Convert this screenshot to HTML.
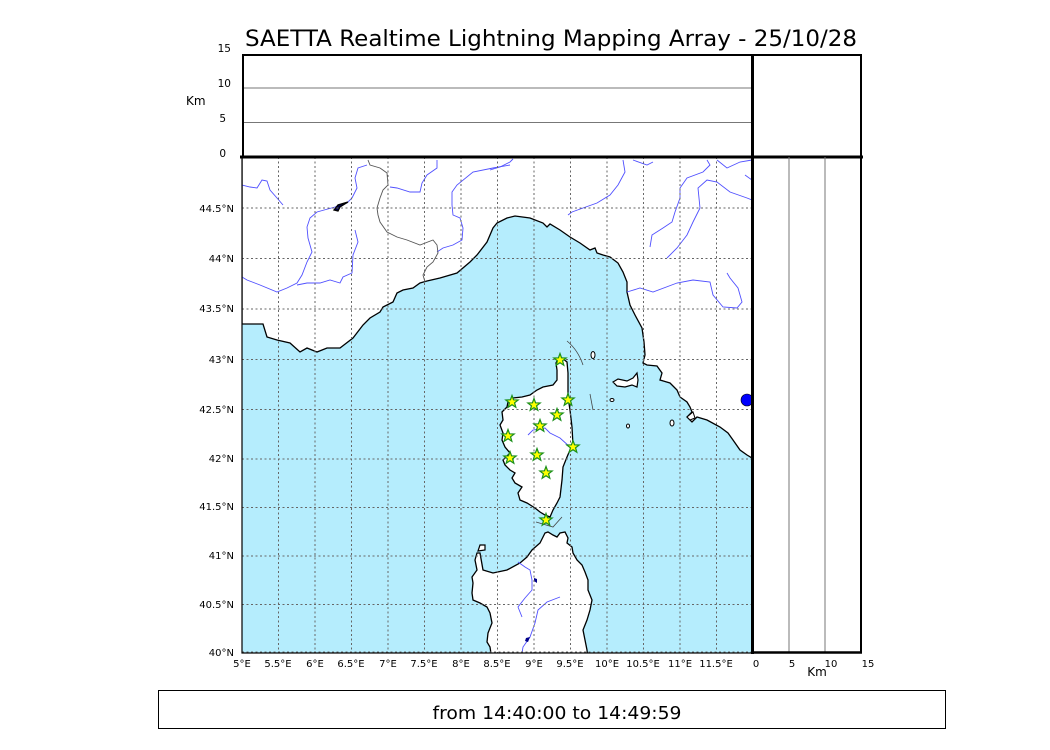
<!DOCTYPE html>
<html><head><meta charset="utf-8"><style>
html,body{margin:0;padding:0;background:#fff;}
svg{display:block;}
text{font-family:"DejaVu Sans","Liberation Sans",sans-serif;fill:#000;}
</style></head><body>
<svg width="1050" height="750" viewBox="0 0 1050 750" xmlns="http://www.w3.org/2000/svg">
<defs>
<clipPath id="mc"><rect x="242" y="157" width="510" height="496"/></clipPath>
<path id="st" d="M0,-6.5 L1.59,-2.18 L6.18,-2.01 L2.57,0.83 L3.82,5.26 L0,2.7 L-3.82,5.26 L-2.57,0.83 L-6.18,-2.01 L-1.59,-2.18 Z"/>
</defs>
<text x="551" y="46" font-size="22" text-anchor="middle" textLength="612" lengthAdjust="spacingAndGlyphs">SAETTA Realtime Lightning Mapping Array - 25/10/28</text>

<!-- map -->
<g clip-path="url(#mc)">
<rect x="242" y="157" width="510" height="496" fill="#b5edfd"/>
<!-- mainland -->
<path fill="#fff" stroke="#000" stroke-width="1.3" d="M242,150 L242,324 L263,324 L267,337 L277,340 L290,343 L300,352 L307,348 L317,352 L327,348 L340,348 L353,338 L363,325 L370,318 L380,312 L383,307 L393,302 L397,293 L403,290 L413,288 L420,283 L427,281 L440,278 L457,273 L470,262 L477,255 L487,242 L493,228 L497,223 L507,218 L515,216 L530,218 L543,223 L547,227 L550,224 L560,230 L570,237 L580,243 L590,250 L595,248 L597,253 L603,255 L610,257 L618,263 L623,272 L627,282 L627,292 L630,305 L635,315 L642,328 L644,342 L645,355 L643,363 L647,365 L657,366 L662,373 L660,380 L670,383 L677,390 L680,397 L687,402 L690,407 L692,412 L687,417 L692,422 L697,417 L707,420 L720,427 L728,433 L733,440 L740,450 L747,455 L752,458 L760,458 L760,150 Z"/>
<!-- corsica -->
<path fill="#fff" stroke="#000" stroke-width="1.3" d="M562,358 L567,362 L568,373 L568,387 L568,397 L570,410 L572,427 L573,445 L570,450 L567,457 L563,467 L562,480 L560,497 L557,503 L553,510 L550,517 L545,515 L540,512 L535,508 L527,503 L520,500 L518,493 L522,487 L515,483 L512,478 L515,473 L510,470 L505,465 L503,460 L510,453 L505,447 L502,440 L503,433 L500,425 L503,420 L502,412 L507,407 L508,402 L513,398 L522,397 L530,395 L537,390 L543,387 L553,385 L557,380 L557,370 L556,363 L558,359 Z"/>
<!-- sardinia -->
<path fill="#fff" stroke="#000" stroke-width="1.3" d="M543,537 L545,533 L548,532 L553,535 L557,537 L560,533 L565,532 L568,538 L567,543 L572,547 L573,553 L577,560 L582,565 L585,572 L588,580 L588,590 L592,600 L590,610 L587,620 L583,630 L585,640 L587,650 L588,660 L492,660 L490,647 L487,642 L488,633 L492,623 L490,613 L487,607 L480,603 L473,600 L472,593 L473,583 L472,577 L477,570 L475,560 L477,553 L480,553 L483,570 L493,573 L507,570 L520,563 L527,557 L532,550 L540,543 Z"/>
<path fill="#fff" stroke="#000" stroke-width="1.2" d="M478,551 L480,545 L485,545 L485,550 Z"/>
<!-- elba & islets -->
<path fill="#fff" stroke="#000" stroke-width="1.2" d="M613,382 L618,379 L627,381 L633,378 L637,373 L638,380 L637,387 L632,385 L625,387 L617,386 Z"/>
<ellipse cx="593" cy="355" rx="2" ry="3.5" fill="#fff" stroke="#000" stroke-width="1"/>
<ellipse cx="612" cy="400" rx="2" ry="1.5" fill="#fff" stroke="#000" stroke-width="1"/>
<ellipse cx="628" cy="426" rx="1.5" ry="2" fill="#fff" stroke="#000" stroke-width="1"/>
<ellipse cx="672" cy="423" rx="2" ry="3" fill="#fff" stroke="#000" stroke-width="1"/>
<path fill="#fff" stroke="#000" stroke-width="1" d="M687,417 L693,412 L695,418 L690,420 Z"/>
<!-- rivers -->
<g fill="none" stroke="#5050ff" stroke-width="0.9">
<polyline points="242,185 250,187 257,188 262,180 267,181 270,190 277,198 283,205"/>
<polyline points="367,165 358,168 355,178 357,188 352,198 347,203 335,207 317,212 310,218 307,227 308,238 312,252 307,262 302,275 297,283 287,288 277,292 260,285 247,280 242,277"/>
<polyline points="355,230 358,242 353,255 352,273 343,277 340,283 330,280 320,283 307,283 297,285"/>
<polyline points="437,160 437,168 427,175 422,183 420,192 410,192 397,188 390,187"/>
<polyline points="510,165 493,168 473,172 457,185 452,192 452,205 453,215 460,218 463,228 462,240 453,245 443,248 437,252"/>
<polyline points="490,170 500,167 510,162 513,159"/>
<polyline points="623,160 625,172 618,185 610,195 597,203 583,208 572,212 568,215"/>
<polyline points="633,160 647,165 653,162"/>
<polyline points="650,247 652,235 663,228 672,222 675,212 680,198 680,188 687,178 703,172 710,165 707,160"/>
<polyline points="667,258 677,248 687,235 693,222 700,208 698,188 707,180 717,182 730,192 747,198 752,200"/>
<polyline points="717,160 727,168 740,162 752,160"/>
<polyline points="745,175 752,180"/>
<polyline points="627,292 640,288 653,292 677,283 693,280 710,282 713,295 723,307 737,308 742,302 738,288 730,278 727,273"/>
<polyline points="528,435 533,430 545,428 550,433 560,438 570,447"/>
<polyline points="518,562 525,567 530,570 532,580 532,590 525,598 518,607 522,617"/>
<polyline points="560,597 547,602 538,610 535,623 530,637 523,647 522,653"/>
</g>
<!-- border -->
<polyline fill="none" stroke="#555" stroke-width="0.9" points="368,160 370,165 380,168 387,173 388,185 383,190 380,198 377,208 378,215 380,222 387,232 397,237 407,240 420,245 433,240 437,245 438,253 433,262 427,267 423,275 425,282"/>
<!-- lakes -->
<path d="M334,210 L338,205 L348,202 L340,207 L338,211 Z" fill="#000050" stroke="#000" stroke-width="1.3"/>
<circle cx="747" cy="400" r="6" fill="#0000ff" stroke="#000" stroke-width="0.6"/>
<path d="M534,578 L537,579 L537,583 L534,581 Z" fill="#00008b"/>
<path d="M526,638 L530,637 L528,642 L525,641 Z" fill="#00008b"/>
<!-- tracks -->
<g fill="none" stroke="#444" stroke-width="0.8">
<path d="M567,341 Q578,350 583,365"/>
<line x1="590" y1="394" x2="593" y2="410"/>
<polyline points="536,522 553,527 562,517"/>
</g>
<!-- grid -->
<g stroke="#666" stroke-width="1" stroke-dasharray="2,2.5" fill="none">
<line x1="278.5" y1="157" x2="278.5" y2="653"/><line x1="315" y1="157" x2="315" y2="653"/>
<line x1="351.5" y1="157" x2="351.5" y2="653"/><line x1="388" y1="157" x2="388" y2="653"/>
<line x1="424.5" y1="157" x2="424.5" y2="653"/><line x1="461" y1="157" x2="461" y2="653"/>
<line x1="497.5" y1="157" x2="497.5" y2="653"/><line x1="534" y1="157" x2="534" y2="653"/>
<line x1="570.5" y1="157" x2="570.5" y2="653"/><line x1="607" y1="157" x2="607" y2="653"/>
<line x1="643.5" y1="157" x2="643.5" y2="653"/><line x1="680" y1="157" x2="680" y2="653"/>
<line x1="716.5" y1="157" x2="716.5" y2="653"/>
<line x1="242" y1="208" x2="752" y2="208"/><line x1="242" y1="258.5" x2="752" y2="258.5"/>
<line x1="242" y1="309" x2="752" y2="309"/><line x1="242" y1="359.5" x2="752" y2="359.5"/>
<line x1="242" y1="409.5" x2="752" y2="409.5"/><line x1="242" y1="459" x2="752" y2="459"/>
<line x1="242" y1="507.5" x2="752" y2="507.5"/><line x1="242" y1="556" x2="752" y2="556"/>
<line x1="242" y1="604.5" x2="752" y2="604.5"/><line x1="242" y1="652" x2="752" y2="652"/>
</g>
<!-- stars -->
<g fill="#ffff00" stroke="#1a8f1a" stroke-width="1.2">
<use href="#st" x="560" y="360"/><use href="#st" x="512" y="402"/>
<use href="#st" x="534" y="405"/><use href="#st" x="568" y="400"/>
<use href="#st" x="557" y="415"/><use href="#st" x="540" y="426"/>
<use href="#st" x="508" y="436"/><use href="#st" x="573" y="447"/>
<use href="#st" x="510" y="458"/><use href="#st" x="537" y="455"/>
<use href="#st" x="546" y="473"/><use href="#st" x="546" y="520"/>
</g>
</g>
<rect x="242" y="157" width="510" height="496" fill="none" stroke="#000" stroke-width="1.2"/>

<!-- top panel -->
<line x1="242" y1="88" x2="752" y2="88" stroke="#777" stroke-width="1"/>
<line x1="242" y1="122.5" x2="752" y2="122.5" stroke="#777" stroke-width="1"/>
<rect x="243" y="55" width="618" height="102" fill="none" stroke="#000" stroke-width="2"/>
<line x1="240" y1="157" x2="863" y2="157" stroke="#000" stroke-width="3"/>
<line x1="752.5" y1="54" x2="752.5" y2="654" stroke="#000" stroke-width="3"/>
<!-- right panel -->
<line x1="789" y1="157" x2="789" y2="653" stroke="#777" stroke-width="1"/>
<line x1="825" y1="157" x2="825" y2="653" stroke="#777" stroke-width="1"/>
<line x1="861" y1="157" x2="861" y2="653" stroke="#000" stroke-width="2"/>
<line x1="752" y1="652.5" x2="862" y2="652.5" stroke="#000" stroke-width="2.5"/>

<!-- labels -->
<g font-size="10.5" text-anchor="end">
<text x="231" y="52">15</text><text x="231" y="87">10</text>
<text x="226" y="122">5</text><text x="226" y="157">0</text>
</g>
<text x="186" y="105" font-size="12">Km</text>
<g font-size="10" text-anchor="end">
<text x="234" y="212">44.5°N</text><text x="234" y="262">44°N</text>
<text x="234" y="312">43.5°N</text><text x="234" y="363">43°N</text>
<text x="234" y="413">42.5°N</text><text x="234" y="462">42°N</text>
<text x="234" y="510">41.5°N</text><text x="234" y="559">41°N</text>
<text x="234" y="608">40.5°N</text><text x="234" y="656">40°N</text>
</g>
<g font-size="10" text-anchor="middle">
<text x="242" y="667">5°E</text><text x="278" y="667">5.5°E</text>
<text x="315" y="667">6°E</text><text x="351" y="667">6.5°E</text>
<text x="388" y="667">7°E</text><text x="424" y="667">7.5°E</text>
<text x="461" y="667">8°E</text><text x="497" y="667">8.5°E</text>
<text x="534" y="667">9°E</text><text x="570" y="667">9.5°E</text>
<text x="607" y="667">10°E</text><text x="643" y="667">10.5°E</text>
<text x="680" y="667">11°E</text><text x="716" y="667">11.5°E</text>
<text x="756" y="667">0</text><text x="792" y="667">5</text>
<text x="831" y="667">10</text><text x="868" y="667">15</text>
</g>
<text x="817" y="676" font-size="12" text-anchor="middle">Km</text>

<!-- bottom box -->
<rect x="158.5" y="690.5" width="787" height="38" fill="#fff" stroke="#000" stroke-width="1"/>
<text x="557" y="719" font-size="18" text-anchor="middle" textLength="249" lengthAdjust="spacingAndGlyphs">from 14:40:00 to 14:49:59</text>
</svg>
</body></html>
